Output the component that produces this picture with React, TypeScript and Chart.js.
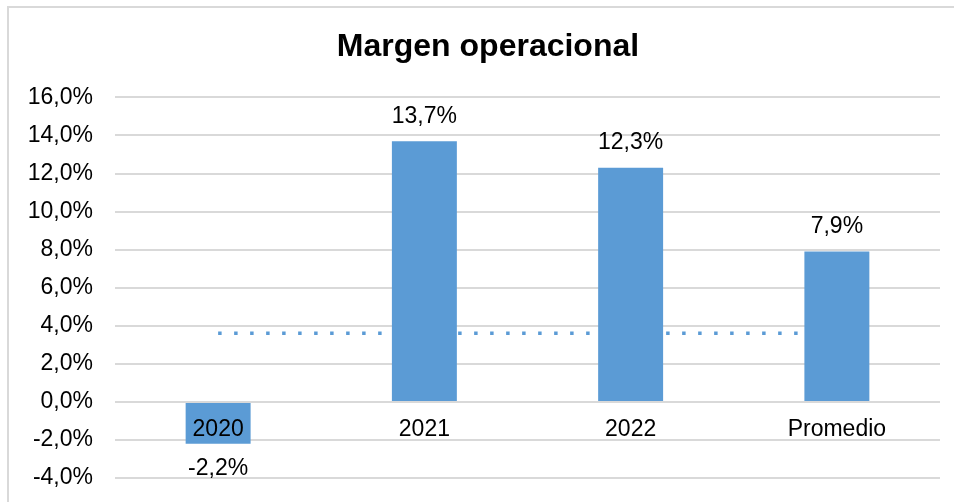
import React, { useEffect, useRef } from "react";
import { Chart, registerables } from "chart.js";

Chart.register(...registerables);

const categories = ["2020", "2021", "2022", "Promedio"];
const marginValues = [-2.2, 13.7, 12.3, 7.9];
const referenceLine = [3.6, 3.6, 3.6, 3.6];
const yMin = -4;
const yMax = 16;
const yStep = 2;

const BLUE = "#5B9BD5";
const GRID = "#D9D9D9";
const FONT = "'Liberation Sans', Arial, sans-serif";

const fmt = (v: number) => v.toFixed(1).replace(".", ",") + "%";

const framePlugin = {
  id: "frame",
  afterLayout(chart: any) {
    // let the y tick labels extend into the left margin without clipping
    if (chart.scales.y) chart.scales.y.left = 0;
  },
  beforeDraw(chart: any) {
    const ctx = chart.ctx;
    ctx.save();
    ctx.fillStyle = "#FFFFFF";
    ctx.fillRect(0, 0, chart.width, chart.height);
    ctx.fillStyle = GRID;
    ctx.fillRect(7, 6, chart.width - 7, 2);
    ctx.fillRect(7, 6, 2, chart.height - 6);
    ctx.restore();
  },
};

const labelPlugin = {
  id: "barLabels",
  afterDraw(chart: any) {
    const ctx = chart.ctx;
    const meta = chart.getDatasetMeta(1);
    const ds = chart.data.datasets[1];
    ctx.save();
    ctx.font = `23px ${FONT}`;
    ctx.fillStyle = "#000000";
    ctx.textAlign = "center";
    ctx.textBaseline = "middle";
    meta.data.forEach((bar: any, i: number) => {
      const v = ds.data[i] as number;
      const y = v >= 0 ? bar.y - 25 : bar.y + 25;
      ctx.fillText(fmt(v), bar.x, y);
    });
    ctx.restore();
  },
};

export default function App() {
  const ref = useRef<HTMLCanvasElement | null>(null);
  useEffect(() => {
    document.body.style.margin = "0";
    if (!ref.current) return;
    const chart = new Chart(ref.current, {
      type: "bar",
      data: {
        labels: categories,
        datasets: [
          {
            type: "line",
            label: "Referencia",
            data: referenceLine,
            borderColor: BLUE,
            borderWidth: 3.5,
            borderDash: [3.5, 12.5],
            borderCapStyle: "butt",
            pointRadius: 0,
            fill: false,
            order: 2,
          } as any,
          {
            type: "bar",
            label: "Margen operacional",
            data: marginValues,
            backgroundColor: BLUE,
            barPercentage: 0.63,
            categoryPercentage: 0.5,
            order: 1,
          },
        ],
      },
      options: {
        responsive: false,
        animation: false,
        layout: { padding: { left: 36, right: 14, top: 28, bottom: 24 } },
        plugins: {
          legend: { display: false },
          tooltip: { enabled: false },
          title: {
            display: true,
            text: "Margen operacional",
            color: "#000000",
            font: { family: FONT, size: 32, weight: "bold" },
            padding: { top: 0, bottom: 31 },
          },
        },
        scales: {
          x: {
            position: { y: 0 } as any,
            grid: { display: false, drawTicks: false },
            border: { display: false },
            afterFit: (scale: any) => {
              scale.paddingTop = 0;
              scale.paddingBottom = 0;
              scale.height = 0;
            },
            ticks: {
              z: 1,
              color: "#000000",
              font: { family: FONT, size: 23 },
              padding: 14,
            },
          },
          y: {
            min: yMin,
            max: yMax,
            afterFit: (scale: any) => {
              scale.paddingTop = 0;
              scale.paddingBottom = 0;
              scale.width = 79;
            },
            ticks: {
              stepSize: yStep,
              color: "#000000",
              font: { family: FONT, size: 23 },
              padding: 22,
              callback: (v: any) => fmt(Number(v)),
            },
            grid: { color: GRID, lineWidth: 2, drawTicks: false },
            border: { display: false },
          },
        },
      },
      plugins: [framePlugin, labelPlugin],
    });
    return () => chart.destroy();
  }, []);
  return (
    <div style={{ width: 954, height: 502 }}>
      <canvas ref={ref} width={954} height={502} style={{ display: "block" }} />
    </div>
  );
}
